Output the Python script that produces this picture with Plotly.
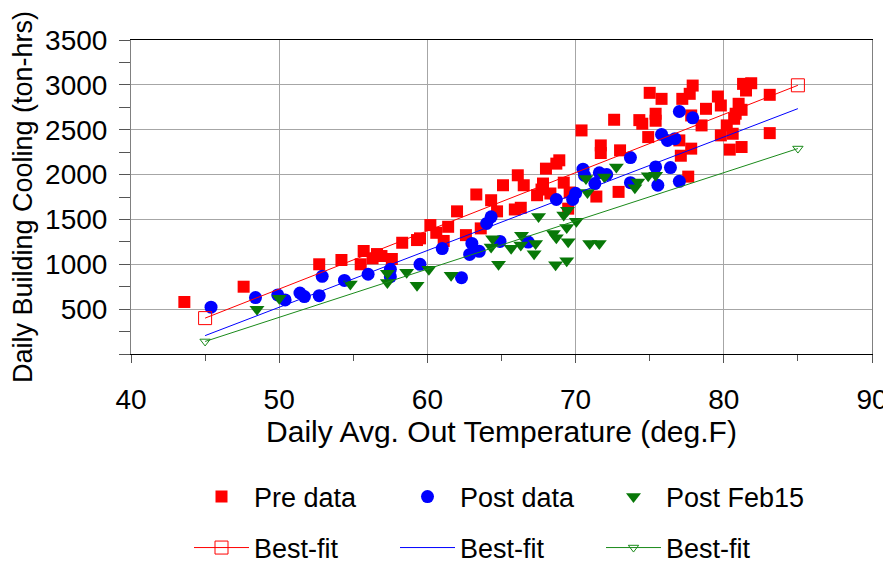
import plotly.graph_objects as go

# ---------------- data ----------------
pre_x = [43.6, 47.6, 52.7, 54.2, 55.5, 55.7, 56.3, 56.6, 56.9, 57.6, 58.3, 59.3, 59.5, 60.2, 60.6,
         61.1, 61.4, 62.0, 62.6, 63.3, 63.6, 64.3, 64.7, 65.1, 65.9, 66.3, 66.1, 66.5, 67.4, 67.7,
         67.8, 68.0, 68.3, 68.7, 68.9, 69.2, 69.6, 69.5, 70.4, 71.4, 71.7, 71.7, 72.6, 72.9, 73.0,
         74.3, 74.5, 74.9, 75.0, 75.4, 75.4, 75.8, 77.0, 77.1, 77.2, 77.6, 77.7, 77.8, 77.8, 77.9,
         78.5, 78.8, 79.6, 79.8, 79.8, 80.2, 80.4, 80.6, 80.7, 80.8, 81.0, 81.2, 81.2, 81.3, 81.5,
         81.85, 83.1, 83.1]
pre_y = [580, 750, 1000, 1048, 1000, 1148, 1066, 1114, 1092, 1059, 1240, 1270, 1289, 1437, 1351,
         1260, 1418, 1590, 1325, 1778, 1400, 1714, 1590, 1881, 1611, 1630, 1992, 1881, 1770, 1833,
         1900, 2066, 1789, 2122, 2159, 1910, 1800, 1620, 2492, 1755, 2325, 2240, 2611, 1807, 2270,
         2607, 2567, 2418, 2911, 2678, 2600, 2844, 2381, 2210, 2844, 1977, 2900, 2659, 2289, 2992,
         2548, 2733, 2870, 2770, 2437, 2548, 2278, 2455, 2622, 2678, 2789, 2722, 2307, 3011, 2937,
         3018, 2889, 2462]

post_x = [45.4, 48.4, 49.9, 50.4, 51.4, 51.7, 52.7, 52.9, 54.4, 56.0, 57.5, 57.5, 59.5, 61.0,
          62.3, 62.85, 63.0, 63.5, 64.0, 64.3, 64.9, 66.8, 68.7, 69.8, 70.0, 70.5, 70.6, 71.3,
          71.6, 72.1, 73.7, 73.7, 75.4, 75.55, 75.8, 76.2, 76.4, 76.7, 77.0, 77.0, 77.9]
post_y = [522, 629, 659, 603, 680, 640, 650, 866, 820, 889, 944, 862, 1000, 1175,
          851, 1110, 1233, 1145, 1455, 1529, 1255, 1248, 1722, 1722, 1792, 2060, 1992, 1900,
          2020, 2000, 2190, 1910, 2085, 1881, 2448, 2381, 2078, 2400, 2703, 1925, 2633]

feb_x = [48.5, 50.0, 54.8, 57.3, 57.3, 58.6, 59.3, 60.1, 61.6, 64.4, 64.3, 64.8, 65.65, 66.3,
         66.35, 67.3, 67.2, 67.5, 68.5, 68.7, 68.65, 69.4, 69.5, 69.4, 69.2, 69.45, 70.05, 70.8,
         70.7, 71.95, 70.95, 71.6, 72.75, 74.0, 74.2, 74.9, 75.4]
feb_y = [500, 622, 780, 900, 796, 912, 765, 946, 879, 1285, 1192, 1000, 1178, 1214,
         1325, 1233, 1118, 1533, 1344, 1295, 995, 1040, 1251, 1409, 1548, 1603, 1479, 1800,
         1955, 1973, 1233, 1233, 2085, 1853, 1918, 1987, 1992]

fit_x = [45, 85]
pre_fit_y = [400, 2995]
post_fit_y = [205, 2735]
feb_fit_y = [140, 2290]

x_tick_vals = [40, 50, 60, 70, 80, 90]
x_tick_text = ["40", "50", "60", "70", "80", "90"]
y_tick_vals = [0, 500, 1000, 1500, 2000, 2500, 3000, 3500]
y_tick_text = ["", "500", "1000", "1500", "2000", "2500", "3000", "3500"]

FONT = "Liberation Sans, Arial, sans-serif"
RED = "#ff0000"
BLUE = "#0000ff"
GREEN = "#087808"

fig = go.Figure()

fig.add_trace(go.Scatter(x=pre_x, y=pre_y, mode="markers", name="Pre data",
                         marker=dict(symbol="square", size=12, color=RED), legend="legend"))
fig.add_trace(go.Scatter(x=post_x, y=post_y, mode="markers", name="Post data",
                         marker=dict(symbol="circle", size=13, color=BLUE), legend="legend"))
fig.add_trace(go.Scatter(x=feb_x, y=feb_y, mode="markers", name="Post Feb15",
                         marker=dict(symbol="triangle-down", size=13, color=GREEN), legend="legend"))

fig.add_trace(go.Scatter(x=fit_x, y=pre_fit_y, mode="lines+markers", name="Best-fit",
                         line=dict(color=RED, width=1),
                         marker=dict(symbol="square-open", size=13, color=RED, line=dict(width=1)),
                         legend="legend2"))
fig.add_trace(go.Scatter(x=fit_x, y=post_fit_y, mode="lines", name="Best-fit",
                         line=dict(color=BLUE, width=1), legend="legend2"))
fig.add_trace(go.Scatter(x=fit_x, y=feb_fit_y, mode="lines+markers", name="Best-fit",
                         line=dict(color="#1a8a1a", width=1),
                         marker=dict(symbol="triangle-down-open", size=9, color="#1a8a1a", line=dict(width=1)),
                         legend="legend2"))

# plot area spans screen px x 131..872 and y 40..354 (page body adds an 8px offset)
legend_common = dict(orientation="h", xanchor="left", yanchor="middle", x=(189 - 131) / 741,
                     font=dict(family=FONT, size=27, color="black"),
                     bgcolor="rgba(0,0,0,0)", itemwidth=55, entrywidth=136,
                     entrywidthmode="pixels", traceorder="normal", itemclick=False)

fig.update_layout(
    width=891, height=564,
    margin=dict(l=123, r=27, t=32, b=218, autoexpand=False),
    paper_bgcolor="white", plot_bgcolor="white",
    font=dict(family=FONT, color="black"),
    legend=dict(legend_common, y=(354 - 497) / 314),
    legend2=dict(legend_common, y=(354 - 548) / 314),
    xaxis=dict(range=[40, 90], tickvals=x_tick_vals, ticktext=x_tick_text,
               showgrid=True, gridcolor="#a6a6a6", gridwidth=1,
               showline=True, linecolor="#000000", linewidth=1, mirror=True,
               ticks="outside", ticklen=8, tickcolor="#555555", tickwidth=1,
               minor=dict(dtick=5, tick0=40, ticks="outside", ticklen=6, tickcolor="#555555", showgrid=False),
               tickfont=dict(family=FONT, size=28), ticklabelstandoff=12,
               zeroline=False,
               title=dict(text="Daily Avg. Out Temperature (deg.F)", font=dict(family=FONT, size=30),
                          standoff=7)),
    yaxis=dict(range=[0, 3500], tickvals=y_tick_vals, ticktext=y_tick_text,
               showgrid=True, gridcolor="#a6a6a6", gridwidth=1,
               showline=True, linecolor="#808080", linewidth=1, mirror=True,
               ticks="outside", ticklen=11, tickcolor="#555555", tickwidth=1,
               minor=dict(dtick=250, tick0=0, ticks="outside", ticklen=11, tickcolor="#555555", showgrid=False),
               tickfont=dict(family=FONT, size=28), ticklabelstandoff=6,
               zeroline=False,
               title=dict(text="Daily Building Cooling (ton-hrs)", font=dict(family=FONT, size=27),
                          standoff=7)),
    xaxis2=dict(range=[40, 90], overlaying="x", anchor="y", side="bottom",
                tickvals=x_tick_vals, showticklabels=False, showgrid=False, zeroline=False,
                ticks="inside", ticklen=7, tickcolor="#555555",
                minor=dict(dtick=5, tick0=40, ticks="inside", ticklen=4, tickcolor="#555555")),
    yaxis2=dict(range=[0, 3500], overlaying="y", anchor="x", side="left",
                tickvals=y_tick_vals, showticklabels=False, showgrid=False, zeroline=False,
                ticks="inside", ticklen=12, tickcolor="#555555",
                minor=dict(dtick=250, tick0=0, ticks="inside", ticklen=7, tickcolor="#555555")),
)

fig.write_html("out.html")
